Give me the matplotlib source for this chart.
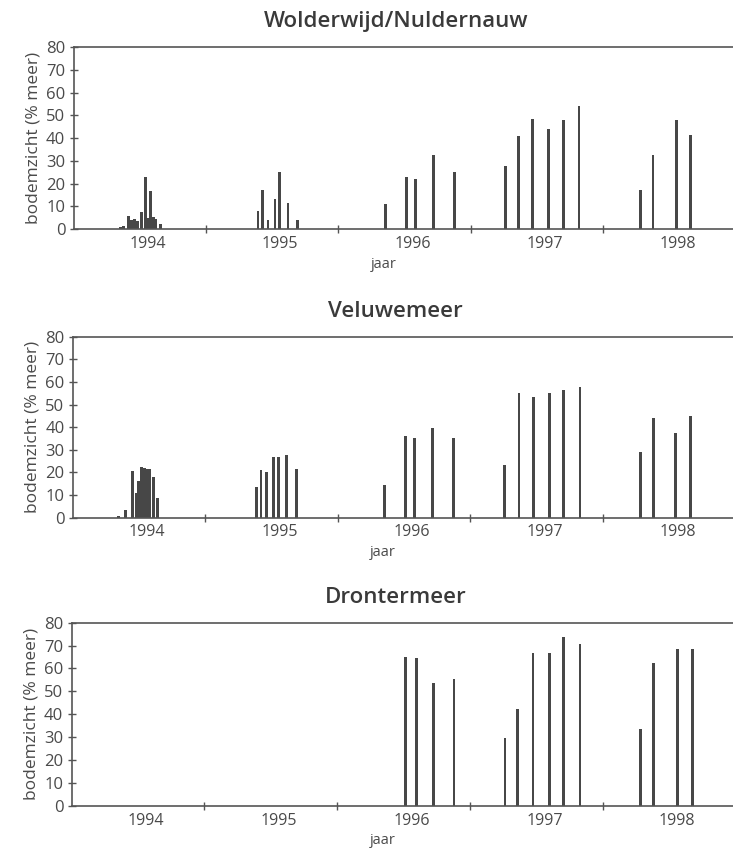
import matplotlib.pyplot as plt

plt.rcParams["font.family"] = ["Open Sans", "DejaVu Sans"]

# measurement dates as decimal years, bodemzicht as % of the lake area
years = [1994, 1995, 1996, 1997, 1998]

wolder_x = [1994.351, 1994.374, 1994.411, 1994.434, 1994.457, 1994.479, 1994.509,
            1994.540, 1994.562, 1994.577, 1994.600, 1994.615, 1994.653,
            1995.392, 1995.428, 1995.468, 1995.521, 1995.558, 1995.619, 1995.694,
            1996.358, 1996.515, 1996.585, 1996.721, 1996.874,
            1997.262, 1997.357, 1997.468, 1997.589, 1997.697, 1997.817,
            1998.281, 1998.376, 1998.550, 1998.658]
wolder_y = [1, 1.5, 5.8, 4, 4.4, 3.5, 7.7, 23, 5, 16.8, 5.3, 4.5, 2.3,
            8.2, 17.2, 4.1, 13.4, 25, 11.7, 4.1,
            11, 23, 22, 32.6, 25,
            27.7, 40.9, 48.6, 43.8, 47.9, 54,
            17.2, 32.6, 47.9, 41.3]

velu_x = [1994.342, 1994.400, 1994.450, 1994.478, 1994.495, 1994.521, 1994.541,
          1994.559, 1994.576, 1994.609, 1994.642,
          1995.384, 1995.420, 1995.465, 1995.515, 1995.553, 1995.611, 1995.687,
          1996.351, 1996.510, 1996.580, 1996.714, 1996.875,
          1997.258, 1997.366, 1997.474, 1997.597, 1997.705, 1997.826,
          1998.280, 1998.381, 1998.549, 1998.657]
velu_y = [0.5, 3.5, 20.6, 11, 16, 22.5, 22, 21.5, 21.5, 18, 8.8,
          13.3, 21, 20.2, 26.9, 26.9, 27.6, 21.3,
          14.4, 36.1, 35.3, 39.5, 35.3,
          23.3, 55.2, 53.5, 54.9, 56.4, 57.6,
          29.2, 43.9, 37.3, 45]

dronter_x = [1996.512, 1996.595, 1996.727, 1996.879,
             1997.263, 1997.360, 1997.474, 1997.595, 1997.704, 1997.828,
             1998.281, 1998.380, 1998.562, 1998.674]
dronter_y = [65.2, 64.4, 53.5, 55.5,
             29.4, 42.1, 66.6, 66.6, 73.9, 70.6,
             33.5, 62.3, 68.5, 68.5]

panels = [
    ("Wolderwijd/Nuldernauw", wolder_x, wolder_y, [0.1005, 0.7309, 0.8995, 0.2140]),
    ("Veluwemeer", velu_x, velu_y, [0.0992, 0.3926, 0.9008, 0.2122]),
    ("Drontermeer", dronter_x, dronter_y, [0.0978, 0.0543, 0.9022, 0.2148]),
]

fig = plt.figure(figsize=(7.33, 8.52), dpi=100)
line_col = "#555555"
text_col = "#4a4a4a"

for title, x, y, rect in panels:
    ax = fig.add_axes(rect)
    ax.bar(x, y, width=0.022, color="#474747", linewidth=0)
    ax.set_xlim(1994, 1998.98)
    ax.set_ylim(0, 80)

    ax.spines["right"].set_visible(False)
    for side in ["left", "top", "bottom"]:
        ax.spines[side].set_color(line_col)
        ax.spines[side].set_linewidth(1.2)

    ax.set_yticks(range(0, 81, 10))
    ax.tick_params(axis="y", direction="inout", length=6, width=1, color=line_col,
                   labelcolor=text_col, labelsize=12, pad=3)

    # year boundaries get a tick, the year label sits mid-year
    ax.set_xticks(years[1:])
    ax.set_xticklabels([])
    ax.set_xticks([yr + 0.56 for yr in years], minor=True)
    ax.set_xticklabels([str(yr) for yr in years], minor=True)
    ax.tick_params(axis="x", which="major", direction="inout", length=6, width=1,
                   color=line_col)
    ax.tick_params(axis="x", which="minor", length=0, labelcolor=text_col,
                   labelsize=11.5, pad=5)

    ax.set_ylabel("bodemzicht (% meer)", color=text_col, fontsize=12.5, labelpad=3)
    ax.set_xlabel("jaar", color=text_col, fontsize=10.5)
    ax.xaxis.set_label_coords(0.47, -0.15)

    top = rect[1] + rect[3]
    fig.text(0.54, top + 0.030, title, ha="center", va="center", fontsize=16,
             fontweight="semibold", color="#3a3a3a")

fig.savefig("out.png", dpi=100)
